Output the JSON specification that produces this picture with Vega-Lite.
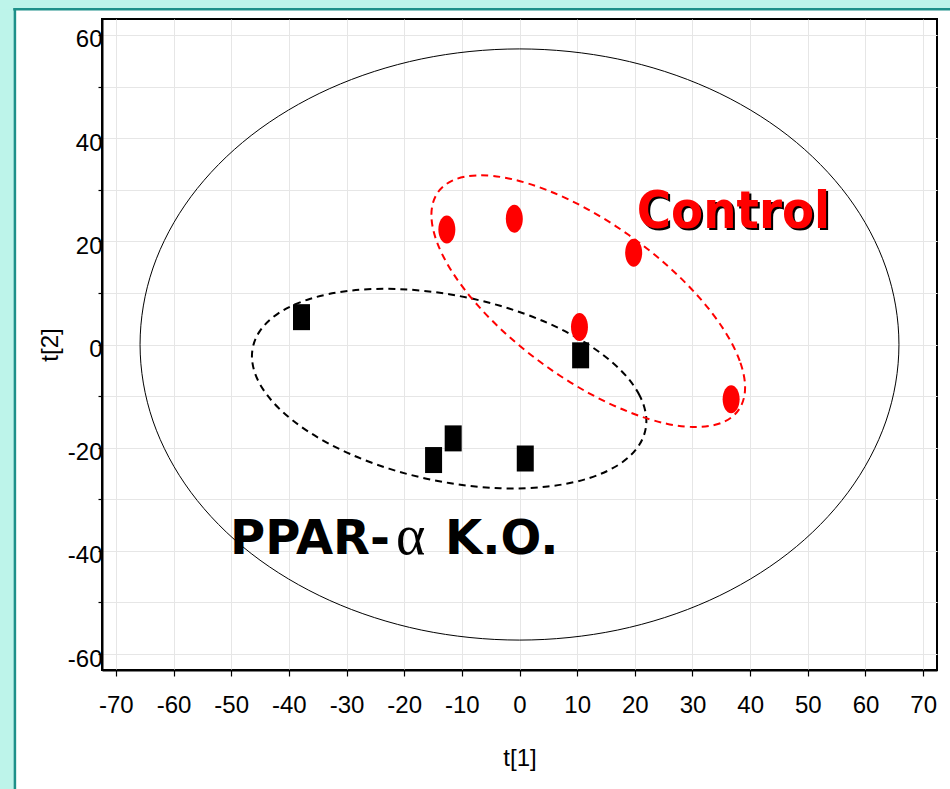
{
  "$schema": "https://vega.github.io/schema/vega-lite/v6.json",
  "autosize": {"type": "none"},
  "width": 835,
  "height": 651,
  "padding": {"left": 102, "top": 19, "right": 13, "bottom": 119},
  "background": "#FFFFFF",
  "config": {
    "view": {"stroke": "#000000", "strokeWidth": 2},
    "axis": {
      "grid": true,
      "domainColor": "#000000", "domainWidth": 2,
      "tickColor": "#000000", "tickWidth": 1.2,
      "gridColor": "#E6E6E6", "gridWidth": 1,
      "labelFont": "Liberation Sans", "labelFontSize": 24, "labelColor": "#000000",
      "labelOverlap": false, "labelFlush": false,
      "titleFont": "Liberation Sans", "titleFontSize": 24, "titleFontWeight": "normal", "titleColor": "#000000"
    }
  },
  "datasets": {
    "panel": [{"part": "frame"}],
    "outer": [
      {"i": 0, "x": 65.8, "y": 0}, {"i": 1, "x": 63.56, "y": 14.83}, {"i": 2, "x": 56.98, "y": 28.65}, {"i": 3, "x": 46.53, "y": 40.52},
      {"i": 4, "x": 32.9, "y": 49.62}, {"i": 5, "x": 17.03, "y": 55.35}, {"i": 6, "x": 0, "y": 57.3}, {"i": 7, "x": -17.03, "y": 55.35},
      {"i": 8, "x": -32.9, "y": 49.62}, {"i": 9, "x": -46.53, "y": 40.52}, {"i": 10, "x": -56.98, "y": 28.65}, {"i": 11, "x": -63.56, "y": 14.83},
      {"i": 12, "x": -65.8, "y": 0}, {"i": 13, "x": -63.56, "y": -14.83}, {"i": 14, "x": -56.98, "y": -28.65}, {"i": 15, "x": -46.53, "y": -40.52},
      {"i": 16, "x": -32.9, "y": -49.62}, {"i": 17, "x": -17.03, "y": -55.35}, {"i": 18, "x": 0, "y": -57.3}, {"i": 19, "x": 17.03, "y": -55.35},
      {"i": 20, "x": 32.9, "y": -49.62}, {"i": 21, "x": 46.53, "y": -40.52}, {"i": 22, "x": 56.98, "y": -28.65}, {"i": 23, "x": 63.56, "y": -14.83}
    ],
    "koEllipse": [
      {"i": 0, "x": 22.0, "y": -14.83}, {"i": 1, "x": 20.83, "y": -9.88}, {"i": 2, "x": 17.42, "y": -4.84}, {"i": 3, "x": 11.98, "y": -0.05},
      {"i": 4, "x": 4.9, "y": 4.16}, {"i": 5, "x": -3.35, "y": 7.5}, {"i": 6, "x": -12.2, "y": 9.75}, {"i": 7, "x": -21.05, "y": 10.75},
      {"i": 8, "x": -29.3, "y": 10.44}, {"i": 9, "x": -36.38, "y": 8.83}, {"i": 10, "x": -41.82, "y": 6.04}, {"i": 11, "x": -45.23, "y": 2.25},
      {"i": 12, "x": -46.4, "y": -2.27}, {"i": 13, "x": -45.23, "y": -7.22}, {"i": 14, "x": -41.82, "y": -12.26}, {"i": 15, "x": -36.38, "y": -17.05},
      {"i": 16, "x": -29.3, "y": -21.26}, {"i": 17, "x": -21.05, "y": -24.61}, {"i": 18, "x": -12.2, "y": -26.85}, {"i": 19, "x": -3.35, "y": -27.86},
      {"i": 20, "x": 4.9, "y": -27.54}, {"i": 21, "x": 11.98, "y": -25.93}, {"i": 22, "x": 17.42, "y": -23.14}, {"i": 23, "x": 20.83, "y": -19.35}
    ],
    "ctrlEllipse": [
      {"i": 0, "x": 39.12, "y": -8.33}, {"i": 1, "x": 38.19, "y": -3.16}, {"i": 2, "x": 35.48, "y": 2.79}, {"i": 3, "x": 31.15, "y": 9.13},
      {"i": 4, "x": 25.52, "y": 15.42}, {"i": 5, "x": 18.96, "y": 21.22}, {"i": 6, "x": 11.92, "y": 26.16}, {"i": 7, "x": 4.88, "y": 29.88},
      {"i": 8, "x": -1.68, "y": 32.15}, {"i": 9, "x": -7.31, "y": 32.79}, {"i": 10, "x": -11.64, "y": 31.77}, {"i": 11, "x": -14.35, "y": 29.16},
      {"i": 12, "x": -15.28, "y": 25.13}, {"i": 13, "x": -14.35, "y": 19.96}, {"i": 14, "x": -11.64, "y": 14.01}, {"i": 15, "x": -7.31, "y": 7.67},
      {"i": 16, "x": -1.68, "y": 1.39}, {"i": 17, "x": 4.88, "y": -4.42}, {"i": 18, "x": 11.92, "y": -9.36}, {"i": 19, "x": 18.96, "y": -13.08},
      {"i": 20, "x": 25.52, "y": -15.35}, {"i": 21, "x": 31.15, "y": -15.99}, {"i": 22, "x": 35.48, "y": -14.97}, {"i": 23, "x": 38.19, "y": -12.36}
    ],
    "control": [
      {"x": -12.6, "y": 22.3}, {"x": -0.9, "y": 24.4}, {"x": 19.8, "y": 17.8}, {"x": 10.4, "y": 3.4}, {"x": 36.7, "y": -10.6}
    ],
    "ko": [
      {"x": -37.8, "y": 5.3}, {"x": 10.6, "y": -2.1}, {"x": -11.5, "y": -18.2}, {"x": -14.9, "y": -22.4}, {"x": 1.0, "y": -22.1}
    ],
    "labels": [
      {"x": 37.1, "y": 22.6, "label": "Control", "part": "control"},
      {"x": -50.2, "y": -40.7, "label": "PPAR-", "part": "ppar"},
      {"x": -21.4, "y": -40.7, "label": "α", "part": "alpha"},
      {"x": -12.9, "y": -40.7, "label": "K.O.", "part": "ko"}
    ]
  },
  "layer": [
    {
      "data": {"name": "panel"},
      "mark": {"type": "rect", "fill": "#BDF4EA", "clip": false},
      "encoding": {
        "x": {"datum": -120, "type": "quantitative", "scale": {"domain": [-72.4, 72.4], "nice": false, "zero": false},
          "axis": {"title": "t[1]", "grid": true, "values": [-70,-65,-60,-55,-50,-45,-40,-35,-30,-25,-20,-15,-10,-5,0,5,10,15,20,25,30,35,40,45,50,55,60,65,70],
            "labelExpr": "datum.value % 10 == 0 ? '' + datum.value : ''", "tickSize": 6, "labelPadding": 17,
            "titleX": 417.5, "titleY": 95, "titleBaseline": "alphabetic", "titleAlign": "center"}},
        "x2": {"datum": -87.5},
        "y": {"datum": -120, "type": "quantitative", "scale": {"domain": [-63.1, 63.1], "nice": false, "zero": false},
          "axis": {"title": "t[2]", "grid": true, "values": [-60,-50,-40,-30,-20,-10,0,10,20,30,40,50,60],
            "labelExpr": "datum.value % 20 == 0 ? '' + datum.value : ''", "tickSize": 4, "labelPadding": -4, "labelOffset": 5,
            "titleX": -45, "titleY": 325.5, "titleBaseline": "alphabetic", "titleAlign": "center", "titleAngle": -90}},
        "y2": {"datum": 120}
      }
    },
    {
      "data": {"name": "panel"},
      "mark": {"type": "rect", "fill": "#BDF4EA", "clip": false},
      "encoding": {
        "x": {"datum": -120, "type": "quantitative", "scale": {"domain": [-72.4, 72.4], "nice": false, "zero": false}},
        "x2": {"datum": 120},
        "y": {"datum": 65.0, "type": "quantitative", "scale": {"domain": [-63.1, 63.1], "nice": false, "zero": false}},
        "y2": {"datum": 120}
      }
    },
    {
      "data": {"name": "panel"},
      "mark": {"type": "rule", "color": "#1E9089", "strokeWidth": 2.5, "clip": false},
      "encoding": {
        "x": {"datum": -87.5, "type": "quantitative", "scale": {"domain": [-72.4, 72.4], "nice": false, "zero": false}},
        "y": {"datum": 65.0, "type": "quantitative", "scale": {"domain": [-63.1, 63.1], "nice": false, "zero": false}},
        "y2": {"datum": -120}
      }
    },
    {
      "data": {"name": "panel"},
      "mark": {"type": "rule", "color": "#1E9089", "strokeWidth": 2.5, "clip": false},
      "encoding": {
        "x": {"datum": -87.8, "type": "quantitative", "scale": {"domain": [-72.4, 72.4], "nice": false, "zero": false}},
        "x2": {"datum": 120},
        "y": {"datum": 65.0, "type": "quantitative", "scale": {"domain": [-63.1, 63.1], "nice": false, "zero": false}}
      }
    },
    {
      "mark": {"type": "rule", "color": "#4D4D4D", "strokeWidth": 1.5},
      "encoding": {
        "x": {"datum": 0, "type": "quantitative", "scale": {"domain": [-72.4, 72.4], "nice": false, "zero": false}}
      }
    },
    {
      "mark": {"type": "rule", "color": "#4D4D4D", "strokeWidth": 1.5},
      "encoding": {
        "y": {"datum": 0, "type": "quantitative", "scale": {"domain": [-63.1, 63.1], "nice": false, "zero": false}}
      }
    },
    {
      "data": {"name": "outer"},
      "mark": {"type": "line", "color": "#000000", "strokeWidth": 1, "interpolate": "cardinal-closed"},
      "encoding": {
        "x": {"field": "x", "type": "quantitative", "scale": {"domain": [-72.4, 72.4], "nice": false, "zero": false}},
        "y": {"field": "y", "type": "quantitative", "scale": {"domain": [-63.1, 63.1], "nice": false, "zero": false}},
        "order": {"field": "i", "type": "quantitative"}
      }
    },
    {
      "data": {"name": "koEllipse"},
      "mark": {"type": "line", "color": "#000000", "strokeWidth": 2, "strokeDash": [7, 5], "interpolate": "cardinal-closed"},
      "encoding": {
        "x": {"field": "x", "type": "quantitative", "scale": {"domain": [-72.4, 72.4], "nice": false, "zero": false}},
        "y": {"field": "y", "type": "quantitative", "scale": {"domain": [-63.1, 63.1], "nice": false, "zero": false}},
        "order": {"field": "i", "type": "quantitative"}
      }
    },
    {
      "data": {"name": "ctrlEllipse"},
      "mark": {"type": "line", "color": "#FF0000", "strokeWidth": 2, "strokeDash": [7, 5], "interpolate": "cardinal-closed"},
      "encoding": {
        "x": {"field": "x", "type": "quantitative", "scale": {"domain": [-72.4, 72.4], "nice": false, "zero": false}},
        "y": {"field": "y", "type": "quantitative", "scale": {"domain": [-63.1, 63.1], "nice": false, "zero": false}},
        "order": {"field": "i", "type": "quantitative"}
      }
    },
    {
      "data": {"name": "ko"},
      "mark": {"type": "point", "filled": true, "fill": "#000000", "opacity": 1, "strokeWidth": 0, "size": 676,
        "shape": "M-0.654,-1 L0.654,-1 L0.654,1 L-0.654,1 Z"},
      "encoding": {
        "x": {"field": "x", "type": "quantitative", "scale": {"domain": [-72.4, 72.4], "nice": false, "zero": false}},
        "y": {"field": "y", "type": "quantitative", "scale": {"domain": [-63.1, 63.1], "nice": false, "zero": false}}
      }
    },
    {
      "data": {"name": "control"},
      "mark": {"type": "point", "filled": true, "fill": "#FF0000", "opacity": 1, "strokeWidth": 0, "size": 784,
        "shape": "M0,-1 C0.335,-1 0.607,-0.552 0.607,0 C0.607,0.552 0.335,1 0,1 C-0.335,1 -0.607,0.552 -0.607,0 C-0.607,-0.552 -0.335,-1 0,-1 Z"},
      "encoding": {
        "x": {"field": "x", "type": "quantitative", "scale": {"domain": [-72.4, 72.4], "nice": false, "zero": false}},
        "y": {"field": "y", "type": "quantitative", "scale": {"domain": [-63.1, 63.1], "nice": false, "zero": false}}
      }
    },
    {
      "data": {"name": "labels"},
      "transform": [{"filter": "datum.part == 'control'"}],
      "mark": {"type": "text", "font": "DejaVu Sans Condensed", "fontWeight": "bold", "fontSize": 52, "align": "center", "baseline": "alphabetic", "fill": "#000000", "dx": 2, "dy": 2},
      "encoding": {
        "x": {"field": "x", "type": "quantitative", "scale": {"domain": [-72.4, 72.4], "nice": false, "zero": false}},
        "y": {"field": "y", "type": "quantitative", "scale": {"domain": [-63.1, 63.1], "nice": false, "zero": false}},
        "text": {"field": "label"}
      }
    },
    {
      "data": {"name": "labels"},
      "transform": [{"filter": "datum.part == 'control'"}],
      "mark": {"type": "text", "font": "DejaVu Sans Condensed", "fontWeight": "bold", "fontSize": 52, "align": "center", "baseline": "alphabetic", "fill": "#FF0000"},
      "encoding": {
        "x": {"field": "x", "type": "quantitative", "scale": {"domain": [-72.4, 72.4], "nice": false, "zero": false}},
        "y": {"field": "y", "type": "quantitative", "scale": {"domain": [-63.1, 63.1], "nice": false, "zero": false}},
        "text": {"field": "label"}
      }
    },
    {
      "data": {"name": "labels"},
      "transform": [{"filter": "datum.part == 'ppar' || datum.part == 'ko'"}],
      "mark": {"type": "text", "font": "DejaVu Sans", "fontWeight": "bold", "fontSize": 48, "align": "left", "baseline": "alphabetic", "fill": "#000000"},
      "encoding": {
        "x": {"field": "x", "type": "quantitative", "scale": {"domain": [-72.4, 72.4], "nice": false, "zero": false}},
        "y": {"field": "y", "type": "quantitative", "scale": {"domain": [-63.1, 63.1], "nice": false, "zero": false}},
        "text": {"field": "label"}
      }
    },
    {
      "data": {"name": "labels"},
      "transform": [{"filter": "datum.part == 'alpha'"}],
      "mark": {"type": "text", "font": "Liberation Serif", "fontWeight": "normal", "fontSize": 56, "align": "left", "baseline": "alphabetic", "fill": "#000000"},
      "encoding": {
        "x": {"field": "x", "type": "quantitative", "scale": {"domain": [-72.4, 72.4], "nice": false, "zero": false}},
        "y": {"field": "y", "type": "quantitative", "scale": {"domain": [-63.1, 63.1], "nice": false, "zero": false}},
        "text": {"field": "label"}
      }
    }
  ]
}
